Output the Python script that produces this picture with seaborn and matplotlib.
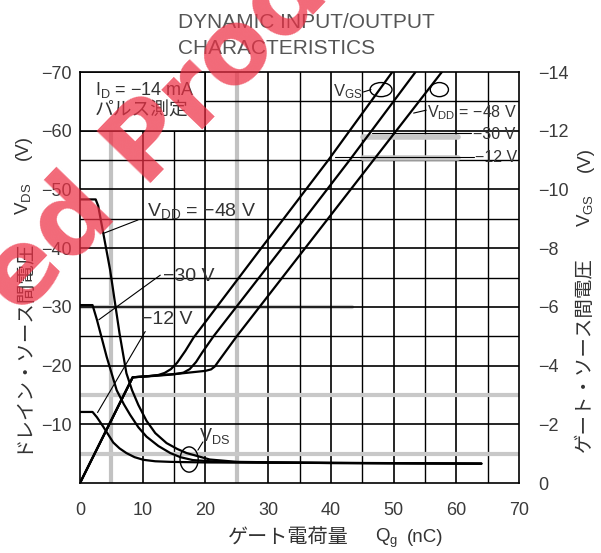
import numpy as np
import pandas as pd
import matplotlib
matplotlib.use("Agg")
import matplotlib.pyplot as plt
import seaborn as sns
from matplotlib.patches import Ellipse, Rectangle

# ---------------- data ----------------
vdd_levels = ["-48 V", "-30 V", "-12 V"]

# Drain-source voltage curves (left axis, V) vs gate charge (nC)
q_vds_48 = [0, 2.5, 2.9, 4.8, 6.3, 7.4, 8.3, 9.3, 10.6, 12.0, 13.8, 15.5, 17.0, 20.7, 25.0, 40.0, 64.0]
vds_48 = [-48.3, -48.3, -47.2, -36.3, -25.5, -18.7, -15.8, -13.3, -10.6, -8.5, -6.8, -5.8, -5.1, -4.0, -3.6, -3.4, -3.3]
q_vds_30 = [0, 2.0, 2.7, 4.25, 5.85, 7.0, 8.0, 9.3, 10.6, 12.5, 14.4, 16.0, 18.0, 22.3, 30.0, 64.0]
vds_30 = [-30.3, -30.3, -27.8, -21.5, -15.8, -13.4, -11.6, -9.5, -7.9, -6.3, -5.1, -4.4, -3.9, -3.6, -3.5, -3.3]
q_vds_12 = [0, 2.0, 2.7, 3.7, 5.3, 6.3, 7.4, 8.7, 10.1, 12.0, 14.4, 20.0, 64.0]
vds_12 = [-12.1, -12.1, -11.2, -9.6, -6.9, -5.9, -5.1, -4.4, -3.95, -3.7, -3.6, -3.5, -3.3]

# Gate-source voltage curves (right axis, V) vs gate charge (nC)
q_vgs_48 = [0, 8.4, 12.0, 16.0, 20.0, 20.9, 21.5, 22.2, 25.0, 35.9, 46.8, 57.7]
vgs_48 = [0, -3.6, -3.66, -3.73, -3.82, -3.87, -3.97, -4.18, -5.0, -8.0, -11.0, -14.0]
q_vgs_30 = [0, 8.4, 12.0, 15.0, 16.5, 17.5, 18.5, 19.5, 21.3, 32.2, 43.0, 53.5]
vgs_30 = [0, -3.6, -3.65, -3.7, -3.76, -3.88, -4.12, -4.45, -5.0, -8.0, -11.0, -14.0]
q_vgs_12 = [0, 8.4, 11.0, 12.5, 13.5, 14.5, 15.5, 16.8, 18.1, 28.9, 39.6, 49.8]
vgs_12 = [0, -3.6, -3.64, -3.68, -3.75, -3.88, -4.1, -4.5, -4.95, -8.0, -11.0, -14.0]

x_ticks = [0, 10, 20, 30, 40, 50, 60, 70]
x_tick_labels = ["0", "10", "20", "30", "40", "50", "60", "70"]
left_ticks = [-70, -60, -50, -40, -30, -20, -10]
left_tick_labels = ["\u221270", "\u221260", "\u221250", "\u221240", "\u221230", "\u221220", "\u221210"]
right_ticks = [-14, -12, -10, -8, -6, -4, -2, 0]
right_tick_labels = ["\u221214", "\u221212", "\u221210", "\u22128", "\u22126", "\u22124", "\u22122", "0"]

title_lines = ["DYNAMIC INPUT/OUTPUT", "CHARACTERISTICS"]
x_label_parts = ["ゲート電荷量", "$\\mathrm{Q_g}$", "(nC)"]
left_label_parts = ["ドレイン・ソース間電圧", "$\\mathrm{V_{DS}}$", "(V)"]
right_label_parts = ["ゲート・ソース間電圧", "$\\mathrm{V_{GS}}$", "(V)"]
cond_lines = ["$\\mathrm{I_D}$ = \u221214 mA", "パルス測定"]
watermark = "ed Product"

# ---------------- build tables ----------------
df_vds = pd.concat([
    pd.DataFrame({"Qg": q, "V": v, "curve": name})
    for q, v, name in [(q_vds_48, vds_48, vdd_levels[0]),
                       (q_vds_30, vds_30, vdd_levels[1]),
                       (q_vds_12, vds_12, vdd_levels[2])]
], ignore_index=True)
df_vgs = pd.concat([
    pd.DataFrame({"Qg": q, "V": v, "curve": name})
    for q, v, name in [(q_vgs_48, vgs_48, vdd_levels[0]),
                       (q_vgs_30, vgs_30, vdd_levels[1]),
                       (q_vgs_12, vgs_12, vdd_levels[2])]
], ignore_index=True)

# ---------------- style ----------------
sns.set_theme(style="white")
plt.rcParams["font.family"] = ["Liberation Sans", "Noto Sans CJK JP"]
plt.rcParams["mathtext.fontset"] = "custom"
plt.rcParams["mathtext.rm"] = "Liberation Sans"
plt.rcParams["mathtext.it"] = "Liberation Sans"
plt.rcParams["mathtext.bf"] = "Liberation Sans:bold"

W, H = 601, 553
fig = plt.figure(figsize=(W / 100, H / 100), dpi=100)
fig.patch.set_facecolor("white")
L, R, T, B = 80, 519, 72, 483
ax = fig.add_axes([L / W, 1 - B / H, (R - L) / W, (B - T) / H])
ax.set_xlim(0, 70)
ax.set_ylim(0, -70)
ax.set_facecolor("white")

# grid (drawn manually to mimic the scanned datasheet)
gray_v = {5, 25}
gray_h = {-5, -15}
for gx in np.arange(5, 70, 5):
    if gx in gray_v:
        ax.axvline(gx, color="#c2c2c2", lw=3.0, zorder=1)
    else:
        ax.axvline(gx, color="black", lw=1.2 if gx % 10 == 0 else 1.0, zorder=1)
for gy in np.arange(-65, 0, 5):
    if gy in gray_h:
        ax.axhline(gy, color="#c8c8c8", lw=3.0, zorder=1)
    else:
        ax.axhline(gy, color="black", lw=1.2 if gy % 10 == 0 else 1.0, zorder=1)
ax.axhline(-30, xmax=0.62, color="#c8c8c8", lw=3.0, zorder=0.9)

for s in ax.spines.values():
    s.set_color("black")
    s.set_linewidth(1.2)

# condition box
ax.add_patch(Rectangle((0, -70), 20, 10, facecolor="white", edgecolor="black", lw=1.2, zorder=2))
ax.text(2.4, -67.0, cond_lines[0], fontsize=13, color="#333333", va="center", ha="left", zorder=3)
ax.text(2.4, -63.4, cond_lines[1], fontsize=13.5, color="#333333", va="center", ha="left", zorder=3)

# VDS curves
sns.lineplot(data=df_vds, x="Qg", y="V", units="curve", estimator=None, sort=False,
             color="black", lw=1.6, ax=ax, legend=False, zorder=4)

# ticks
ax.set_xticks(x_ticks)
ax.set_xticklabels(x_tick_labels)
ax.set_yticks(left_ticks)
ax.set_yticklabels(left_tick_labels)
ax.tick_params(axis="both", length=0, labelsize=13, labelcolor="#3a3a3a")
ax.tick_params(axis="x", pad=14)
ax.tick_params(axis="y", pad=6)
ax.set_xlabel("")
ax.set_ylabel("")

# VGS curves on right axis
ax2 = ax.twinx()
ax2.set_ylim(0, -14)
sns.lineplot(data=df_vgs, x="Qg", y="V", units="curve", estimator=None, sort=False,
             color="black", lw=1.6, ax=ax2, legend=False, zorder=4)
ax2.set_yticks(right_ticks)
ax2.set_yticklabels(right_tick_labels)
ax2.tick_params(axis="y", length=0, labelsize=13, labelcolor="#3a3a3a", pad=14)
ax2.set_ylabel("")
ax2.set_xlabel("")
for s in ax2.spines.values():
    s.set_visible(False)

# ---------------- annotations (in VDS data coords) ----------------
ann_kw = dict(fontsize=14, color="#333333", zorder=6)
lead_kw = dict(color="black", lw=0.8, zorder=5)
ax.text(10.7, -46.3, "$\\mathrm{V_{DD}}$ = \u221248 V", va="center", ha="left", **ann_kw)
ax.plot([9.25, 3.7], [-44.8, -42.5], **lead_kw)
ax.text(13.2, -35.1, "\u221230 V", va="center", ha="left", **ann_kw)
ax.plot([12.8, 3.0], [-35.4, -27.8], **lead_kw)
ax.text(9.8, -27.8, "\u221212 V", va="center", ha="left", **ann_kw)
ax.plot([10.4, 2.8], [-25.8, -12.0], **lead_kw)
ax.text(18.9, -8.0, "$\\mathrm{V_{DS}}$", va="center", ha="left", fontsize=13, color="#333333", zorder=6)
ax.plot([19.6, 18.8], [-7.0, -5.6], **lead_kw)
ax.add_patch(Ellipse((17.4, -4.0), 2.9, 4.3, fill=False, ec="black", lw=1.0, zorder=5))

ax.text(40.4, -66.6, "$\\mathrm{V_{GS}}$", va="center", ha="left", fontsize=12, color="#333333", zorder=6)
ax.plot([45.2, 46.4], [-66.6, -67.0], **lead_kw)
ax.add_patch(Ellipse((48.0, -67.0), 3.5, 2.4, fill=False, ec="black", lw=1.0, zorder=5))
ax.add_patch(Ellipse((57.3, -67.0), 2.9, 2.4, fill=False, ec="black", lw=1.0, zorder=5))

small_kw = dict(fontsize=11.5, color="#333333", zorder=6, va="center", ha="left")
ax.text(55.4, -63.0, "$\\mathrm{V_{DD}}$ = \u221248 V", **small_kw)
ax.plot([53.2, 55.2], [-63.0, -63.5], **lead_kw)
ax.plot([45.2, 60.3], [-59.0, -59.0], color="#c8c8c8", lw=4, zorder=1.5)
ax.plot([46.5, 62.4], [-59.6, -59.6], **lead_kw)
ax.text(62.6, -59.4, "\u221230 V", **small_kw)
ax.plot([45.2, 60.3], [-55.3, -55.3], color="#c8c8c8", lw=4, zorder=1.5)
ax.plot([40.6, 62.8], [-55.6, -55.6], **lead_kw)
ax.text(63.0, -55.4, "\u221212 V", **small_kw)

# ---------------- titles and axis labels ----------------
lab_kw = dict(color="#333333", va="center", ha="center")
fig.text(178 / W, 1 - 22 / H, title_lines[0], fontsize=15, color="#555555", va="center", ha="left")
fig.text(178 / W, 1 - 48 / H, title_lines[1], fontsize=15, color="#555555", va="center", ha="left")

fig.text(288 / W, 1 - 538 / H, x_label_parts[0], fontsize=14.5, **lab_kw)
fig.text(387 / W, 1 - 538 / H, x_label_parts[1], fontsize=13.5, **lab_kw)
fig.text(425 / W, 1 - 538 / H, x_label_parts[2], fontsize=13.5, **lab_kw)

fig.text(23 / W, 1 - 346 / H, left_label_parts[0], fontsize=14, rotation=90, **lab_kw)
fig.text(23 / W, 1 - 199 / H, left_label_parts[1], fontsize=13.5, rotation=90, **lab_kw)
fig.text(23 / W, 1 - 147 / H, left_label_parts[2], fontsize=13.5, rotation=90, **lab_kw)

fig.text(585 / W, 1 - 355 / H, right_label_parts[0], fontsize=14, rotation=90, **lab_kw)
fig.text(585 / W, 1 - 210 / H, right_label_parts[1], fontsize=13.5, rotation=90, **lab_kw)
fig.text(585 / W, 1 - 160 / H, right_label_parts[2], fontsize=13.5, rotation=90, **lab_kw)

# watermark
fig.text(20 / W, 1 - 318 / H, watermark, fontsize=74, fontweight="bold", family="DejaVu Sans",
         color="#ee3045", alpha=0.72, rotation=46, rotation_mode="anchor",
         ha="left", va="baseline", zorder=20)

fig.savefig("out.png", dpi=100, facecolor="white")
